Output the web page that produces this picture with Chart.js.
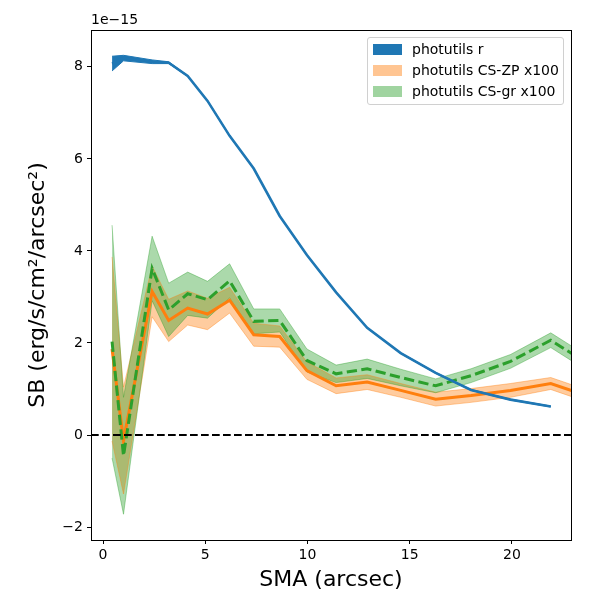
<!DOCTYPE html>
<html>
<head>
<meta charset="utf-8">
<script src="https://cdn.jsdelivr.net/npm/chart.js@4.4.1/dist/chart.umd.min.js"></script>
<style>
  html, body { margin: 0; padding: 0; background: #fff; }
  #wrap { position: relative; width: 600px; height: 600px; }
  #legend {
    position: absolute; left: 367px; top: 37px; width: 195px; height: 66px;
    border: 1px solid #d0d0d0; border-radius: 3px; background: rgba(255,255,255,0.8);
    font-family: "DejaVu Sans", sans-serif; font-size: 14px; color: #000;
  }
  .row { position: absolute; left: 0; height: 14px; line-height: 14px; white-space: nowrap; }
  .patch { position: absolute; left: 5px; top: 1px; width: 29px; height: 11px; }
  .lbl { position: absolute; left: 44px; top: -1px; }
</style>
</head>
<body>
<div id="wrap">
  <canvas id="chart" width="600" height="600"></canvas>
  <div id="legend">
    <div class="row" style="top:5px"><div class="patch" style="background:#1f77b4"></div><span class="lbl">photutils r</span></div>
    <div class="row" style="top:26px"><div class="patch" style="background:rgba(255,127,14,0.45)"></div><span class="lbl">photutils CS-ZP x100</span></div>
    <div class="row" style="top:47px"><div class="patch" style="background:rgba(44,160,44,0.45)"></div><span class="lbl">photutils CS-gr x100</span></div>
  </div>
</div>
<script>
// semi-major axis (arcsec)
const smaX = [0.44, 1.0, 2.4, 3.21, 4.14, 5.11, 6.19, 7.37, 8.64, 9.97, 11.4, 12.92, 14.56, 16.27, 18.0, 19.93, 21.9, 24.0];

// surface brightness, units of 1e-15
const rSB = [8.07, 8.19, 8.11, 8.09, 7.80, 7.26, 6.50, 5.79, 4.76, 3.91, 3.10, 2.33, 1.78, 1.35, 0.98, 0.77, 0.62];
const rErr = [0.16, 0.06, 0.04, 0.02, 0.01, 0.01, 0.01, 0.01, 0.01, 0.01, 0.01, 0.01, 0.01, 0.01, 0.01, 0.01, 0.01];

const zpSB = [1.87, -0.12, 3.12, 2.49, 2.76, 2.63, 2.93, 2.18, 2.14, 1.40, 1.07, 1.15, 0.97, 0.78, 0.86, 0.97, 1.12, 0.80];
const zpErr = [2.0, 1.16, 0.55, 0.46, 0.37, 0.34, 0.28, 0.25, 0.23, 0.19, 0.17, 0.16, 0.15, 0.15, 0.15, 0.15, 0.13, 0.13];

const grSB = [2.03, -0.45, 3.62, 2.72, 3.07, 2.94, 3.35, 2.47, 2.49, 1.62, 1.33, 1.44, 1.25, 1.07, 1.29, 1.60, 2.06, 1.47];
const grErr = [2.53, 1.27, 0.7, 0.58, 0.47, 0.40, 0.37, 0.27, 0.25, 0.25, 0.19, 0.21, 0.18, 0.15, 0.15, 0.15, 0.16, 0.16];

const xTicks = [0, 5, 10, 15, 20];
const yTicks = [-2, 0, 2, 4, 6, 8];
const xMin = -0.59, xMax = 22.89;
const yMin = -2.28, yMax = 8.80;
const zeroX = [xMin, xMax];
const zeroY = [0, 0];

const FONT = '"DejaVu Sans", sans-serif';

const pts = (ys, sign, errs) => ys.map((y, i) => ({ x: smaX[i], y: errs ? y + sign * errs[i] : y }));
const refPts = zeroX.map((x, i) => ({ x: x, y: zeroY[i] }));

const lineBase = { pointRadius: 0, tension: 0, fill: false, clip: 0 };
const bandEdge = (color) => ({ pointRadius: 0, tension: 0, clip: 0, borderColor: color, borderWidth: 1 });

const frame = {
    id: 'frame',
    afterDraw(chart) {
        const { ctx, chartArea } = chart;
        ctx.save();
        ctx.strokeStyle = '#000';
        ctx.lineWidth = 1;
        ctx.strokeRect(chartArea.left + 0.5, chartArea.top + 0.5, chartArea.right - chartArea.left, chartArea.bottom - chartArea.top);
        ctx.fillStyle = '#000';
        ctx.font = '14px ' + FONT;
        ctx.textBaseline = 'bottom';
        ctx.textAlign = 'left';
        ctx.fillText('1e\u221215', chartArea.left, chartArea.top - 3);
        ctx.restore();
    }
};

const fmt = (v) => (v < 0 ? '\u2212' + Math.abs(v) : String(v));

new Chart(document.getElementById('chart'), {
    type: 'line',
    data: {
        datasets: [
            { ...lineBase, data: refPts, borderColor: '#000', borderWidth: 2, borderDash: [7.7, 3.3], order: -1 },
            { ...lineBase, data: pts(rSB), borderColor: '#1f77b4', borderWidth: 2.6, order: 0 },
            { ...lineBase, data: pts(grSB), borderColor: '#2ca02c', borderWidth: 3, borderDash: [10.3, 4.4], order: 1 },
            { ...lineBase, data: pts(zpSB), borderColor: '#ff7f0e', borderWidth: 3, order: 2 },
            // bands: upper edge fills down to the next dataset (lower edge)
            { ...bandEdge('rgba(44,160,44,0.4)'), data: pts(grSB, 1, grErr), fill: '+1', backgroundColor: 'rgba(44,160,44,0.4)', order: 3 },
            { ...bandEdge('rgba(44,160,44,0.4)'), data: pts(grSB, -1, grErr), fill: false, order: 3 },
            { ...bandEdge('rgba(255,127,14,0.4)'), data: pts(zpSB, 1, zpErr), fill: '+1', backgroundColor: 'rgba(255,127,14,0.4)', order: 4 },
            { ...bandEdge('rgba(255,127,14,0.4)'), data: pts(zpSB, -1, zpErr), fill: false, order: 4 },
            { ...bandEdge('#1f77b4'), data: pts(rSB, 1, rErr), fill: '+1', backgroundColor: '#1f77b4', order: 5 },
            { ...bandEdge('#1f77b4'), data: pts(rSB, -1, rErr), fill: false, order: 5 }
        ]
    },
    options: {
        responsive: false,
        animation: false,
        devicePixelRatio: 1,
        layout: { padding: { left: 0, top: 30, right: 29, bottom: 0 } },
        plugins: {
            legend: { display: false },
            tooltip: { enabled: false },
            filler: { drawTime: 'beforeDatasetsDraw' }
        },
        scales: {
            x: {
                type: 'linear',
                min: xMin,
                max: xMax,
                afterFit: (s) => { s.height = 60; },
                afterBuildTicks: (s) => { s.ticks = xTicks.map(v => ({ value: v })); },
                grid: { drawOnChartArea: false, drawTicks: true, tickLength: 4, tickColor: '#000', tickWidth: 1 },
                border: { display: false },
                ticks: { color: '#000', font: { family: FONT, size: 14 }, padding: 3, maxRotation: 0, callback: fmt },
                title: { display: true, text: 'SMA (arcsec)', color: '#000', font: { family: FONT, size: 22 }, padding: { top: 0, bottom: 7 } }
            },
            y: {
                type: 'linear',
                min: yMin,
                max: yMax,
                afterFit: (s) => { s.width = 91; },
                afterBuildTicks: (s) => { s.ticks = yTicks.map(v => ({ value: v })); },
                grid: { drawOnChartArea: false, drawTicks: true, tickLength: 4, tickColor: '#000', tickWidth: 1 },
                border: { display: false },
                ticks: { color: '#000', font: { family: FONT, size: 14 }, padding: 4, callback: fmt },
                title: { display: true, text: 'SB (erg/s/cm\u00b2/arcsec\u00b2)', color: '#000', font: { family: FONT, size: 22 }, padding: { top: 25, bottom: 0 } }
            }
        }
    },
    plugins: [frame]
});
</script>
</body>
</html>
